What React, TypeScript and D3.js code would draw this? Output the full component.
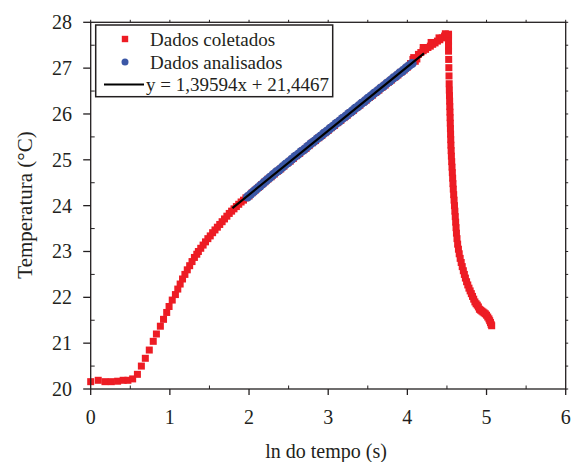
import React from "react";
import * as d3 from "d3";

// ---- data ----
const xTicks = [0, 1, 2, 3, 4, 5, 6];
const yTicks = [20, 21, 22, 23, 24, 25, 26, 27, 28];

// "Dados coletados": [ln(t), temperature]
const collectedRise: [number, number][] = [
  [0, 20.16], [0.095, 20.19], [0.18, 20.16], [0.26, 20.16], [0.34, 20.17], [0.41, 20.19],
  [0.47, 20.19], [0.53, 20.22], [0.59, 20.32], [0.64, 20.5], [0.69, 20.67], [0.74, 20.85],
  [0.79, 21.04], [0.83, 21.2], [0.88, 21.37], [0.92, 21.52], [0.96, 21.67], [0.99, 21.8],
  [1.03, 21.94], [1.07, 22.06], [1.1, 22.18], [1.13, 22.29], [1.16, 22.4], [1.19, 22.5],
  [1.22, 22.6], [1.25, 22.69], [1.28, 22.78], [1.31, 22.87], [1.34, 22.94], [1.36, 23.0],
  [1.39, 23.07], [1.42, 23.14], [1.45, 23.21], [1.48, 23.28], [1.51, 23.34], [1.54, 23.41],
  [1.57, 23.47], [1.6, 23.53], [1.63, 23.59], [1.66, 23.65], [1.69, 23.71], [1.72, 23.77],
  [1.75, 23.83], [1.78, 23.88], [1.81, 23.93], [1.84, 23.98], [1.87, 24.03], [1.9, 24.08],
  [1.93, 24.12], [1.96, 24.17], [2.0, 24.21], [2.04, 24.28], [2.08, 24.34], [2.12, 24.4],
  [2.16, 24.46], [2.2, 24.52], [2.24, 24.58], [2.28, 24.63], [2.32, 24.69], [2.36, 24.75],
  [2.4, 24.8], [2.44, 24.86], [2.48, 24.92], [2.52, 24.97], [2.56, 25.03], [2.6, 25.09],
  [2.64, 25.14], [2.68, 25.2], [2.72, 25.25], [2.76, 25.31], [2.8, 25.37], [2.84, 25.42],
  [2.88, 25.48], [2.92, 25.53], [2.96, 25.59], [3.0, 25.64], [3.04, 25.7], [3.08, 25.75],
  [3.12, 25.81], [3.16, 25.86], [3.2, 25.92], [3.24, 25.97], [3.28, 26.03], [3.32, 26.08],
  [3.36, 26.14], [3.4, 26.19], [3.44, 26.25], [3.48, 26.3], [3.52, 26.36], [3.56, 26.41],
  [3.6, 26.47], [3.64, 26.52], [3.68, 26.58], [3.72, 26.63], [3.76, 26.69], [3.8, 26.74],
  [3.84, 26.8], [3.88, 26.85], [3.92, 26.91], [3.96, 26.96], [4.0, 27.02], [4.04, 27.1],
  [4.07, 27.19], [4.08, 27.23], [4.1, 27.15], [4.12, 27.2], [4.14, 27.3], [4.17, 27.34],
  [4.2, 27.38], [4.2, 27.45], [4.23, 27.41], [4.26, 27.45], [4.29, 27.48], [4.3, 27.56],
  [4.32, 27.52], [4.35, 27.55], [4.38, 27.59], [4.4, 27.66], [4.41, 27.62], [4.44, 27.66],
  [4.47, 27.7], [4.48, 27.75], [4.5, 27.73],
];

const collectedFall: [number, number][] = [
  [4.52, 27.74], [4.52, 27.7], [4.52, 27.59], [4.52, 27.48], [4.52, 27.37], [4.522, 27.19],
  [4.524, 27.01], [4.526, 26.83], [4.528, 26.66], [4.53, 26.52], [4.532, 26.4], [4.534, 26.28],
  [4.536, 26.16], [4.538, 26.04], [4.54, 25.92], [4.542, 25.8], [4.544, 25.68], [4.546, 25.56],
  [4.548, 25.44], [4.55, 25.32], [4.553, 25.2], [4.556, 25.08], [4.56, 24.96], [4.564, 24.84],
  [4.568, 24.72], [4.572, 24.6], [4.576, 24.48], [4.58, 24.36], [4.585, 24.24], [4.59, 24.12],
  [4.595, 24.0], [4.6, 23.88], [4.605, 23.76], [4.61, 23.64], [4.615, 23.52], [4.62, 23.4],
  [4.627, 23.28], [4.635, 23.16], [4.645, 23.05], [4.655, 22.95], [4.667, 22.85], [4.68, 22.76],
  [4.693, 22.67], [4.707, 22.58], [4.72, 22.5], [4.733, 22.42], [4.748, 22.34], [4.763, 22.27],
  [4.778, 22.2], [4.793, 22.14], [4.808, 22.08], [4.823, 22.02], [4.838, 21.96], [4.853, 21.9],
  [4.868, 21.86], [4.883, 21.83], [4.897, 21.79], [4.91, 21.74], [4.925, 21.72], [4.94, 21.7],
  [4.955, 21.68], [4.97, 21.66], [4.985, 21.64], [5.0, 21.61], [5.015, 21.57], [5.03, 21.53],
  [5.04, 21.49], [5.05, 21.45], [5.058, 21.41], [5.065, 21.38],
];

// "Dados analisados"
const analyzed: [number, number][] = [
  [1.98, 24.19], [2.02, 24.25], [2.06, 24.31], [2.1, 24.37], [2.14, 24.43], [2.18, 24.49],
  [2.22, 24.55], [2.26, 24.61], [2.3, 24.67], [2.34, 24.73], [2.38, 24.78], [2.42, 24.84],
  [2.46, 24.9], [2.5, 24.95], [2.54, 25.01], [2.58, 25.07], [2.62, 25.12], [2.66, 25.18],
  [2.7, 25.23], [2.74, 25.29], [2.78, 25.35], [2.82, 25.4], [2.86, 25.46], [2.9, 25.51],
  [2.94, 25.57], [2.98, 25.62], [3.02, 25.68], [3.06, 25.73], [3.1, 25.79], [3.14, 25.84],
  [3.18, 25.9], [3.22, 25.95], [3.26, 26.01], [3.3, 26.06], [3.34, 26.12], [3.38, 26.17],
  [3.42, 26.23], [3.46, 26.28], [3.5, 26.34], [3.54, 26.39], [3.58, 26.45], [3.62, 26.5],
  [3.66, 26.56], [3.7, 26.61], [3.74, 26.67], [3.78, 26.72], [3.82, 26.78], [3.86, 26.83],
  [3.9, 26.89], [3.94, 26.94], [3.98, 27.0], [4.02, 27.05], [4.06, 27.1],
];

const fitSlope = 1.39594;
const fitIntercept = 21.4467;
const fitRange = [1.79, 4.21];

const legendLabels = ["Dados coletados", "Dados analisados", "y = 1,39594x + 21,4467"];
const xTitle = "ln do tempo (s)";
const yTitle = "Temperatura (°C)";

const RED = "#ED1C24";
const BLUE = "#3B57A6";
const FONT = "'Liberation Serif', 'Times New Roman', serif";

export default function App() {
  const W = 573, H = 462;
  const left = 90.7, right = 565.7, top = 22.3, bottom = 389;
  const x = d3.scaleLinear().domain([0, 6]).range([left, right]);
  const y = d3.scaleLinear().domain([20, 28]).range([bottom, top]);
  const sq = 7;
  const collected = [...collectedRise, ...collectedFall];
  const halfTicksX = d3.range(0, 6.01, 0.5);
  const halfTicksY = d3.range(20, 28.01, 0.5);
  const line = d3.line<number>().x((v) => x(v)).y((v) => y(fitSlope * v + fitIntercept));
  const axisColor = "#231f20";

  return (
    <svg width={W} height={H} style={{ position: "absolute", left: 0, top: 0, background: "#fff" }} fontFamily={FONT}>
      <rect x={0} y={0} width={W} height={H} fill="#fff" />
      {/* data */}
      <g>
        {collected.map(([a, b], i) => (
          <rect key={"c" + i} x={x(a) - sq / 2} y={y(b) - sq / 2} width={sq} height={sq} fill={RED} />
        ))}
      </g>
      <g>
        {analyzed.map(([a, b], i) => (
          <circle key={"a" + i} cx={x(a)} cy={y(b)} r={4.6} fill={BLUE} />
        ))}
      </g>
      <path d={line(fitRange) || ""} stroke="#000" strokeWidth={2.2} fill="none" />

      {/* frame */}
      <rect x={left} y={top} width={right - left} height={bottom - top} fill="none" stroke={axisColor} strokeWidth={1.3} />
      {/* left axis ticks */}
      {yTicks.map((t) => (
        <g key={"yt" + t}>
          <line x1={left - 7.5} x2={left} y1={y(t)} y2={y(t)} stroke={axisColor} strokeWidth={1.3} />
          <text x={72} y={y(t) + 7} textAnchor="end" fontSize={20} fill="#231f20">{t}</text>
        </g>
      ))}
      {halfTicksY.filter((t) => t % 1 !== 0).map((t) => (
        <line key={"ym" + t} x1={left} x2={left + 4} y1={y(t)} y2={y(t)} stroke={axisColor} strokeWidth={1} />
      ))}
      {halfTicksY.map((t) => (
        <line key={"yr" + t} x1={right} x2={right + 2.5} y1={y(t)} y2={y(t)} stroke={axisColor} strokeWidth={1} />
      ))}
      {/* bottom axis ticks */}
      {xTicks.map((t) => (
        <g key={"xt" + t}>
          <line x1={x(t)} x2={x(t)} y1={bottom} y2={bottom + 6} stroke={axisColor} strokeWidth={1.3} />
          <text x={x(t)} y={424} textAnchor="middle" fontSize={20} fill="#231f20">{t}</text>
        </g>
      ))}
      {halfTicksX.filter((t) => t % 1 !== 0).map((t) => (
        <line key={"xm" + t} x1={x(t)} x2={x(t)} y1={bottom} y2={bottom - 3.5} stroke={axisColor} strokeWidth={1} />
      ))}
      {halfTicksX.map((t) => (
        <line key={"xtop" + t} x1={x(t)} x2={x(t)} y1={top} y2={top - 2.5} stroke={axisColor} strokeWidth={1} />
      ))}

      {/* titles */}
      <text x={326} y={458} textAnchor="middle" fontSize={20} fill="#231f20">{xTitle}</text>
      <text transform="translate(31.5,205) rotate(-90)" textAnchor="middle" fontSize={21} fill="#231f20">{yTitle}</text>

      {/* legend */}
      <g>
        <rect x={95.7} y={25} width={237} height={71.7} fill="#fff" stroke={axisColor} strokeWidth={1.5} />
        <rect x={125 - 3.2} y={39 - 3.2} width={6.4} height={6.4} fill={RED} />
        <circle cx={125} cy={62} r={3.5} fill={BLUE} />
        <line x1={104} x2={144} y1={84.5} y2={84.5} stroke="#000" strokeWidth={2} />
        {legendLabels.map((l, i) => (
          <text key={l} x={i === 2 ? 146 : 150} y={46 + i * 22.5} fontSize={19} fill="#231f20">{l}</text>
        ))}
      </g>
    </svg>
  );
}
